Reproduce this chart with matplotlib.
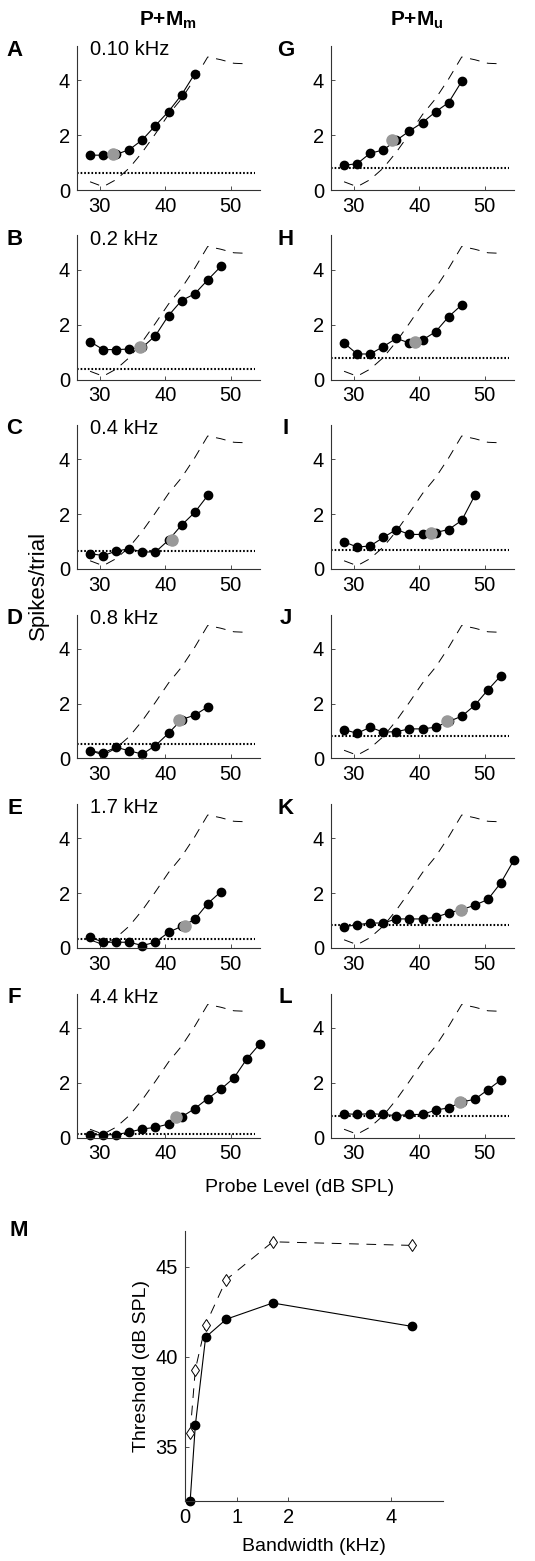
import matplotlib.pyplot as plt

plt.rcParams['font.family'] = ['Liberation Sans', 'DejaVu Sans']
plt.rcParams['mathtext.fontset'] = 'custom'
plt.rcParams['mathtext.rm'] = 'Liberation Sans'
plt.rcParams['mathtext.bf'] = 'Liberation Sans:bold'
plt.rcParams['lines.scale_dashes'] = False

# ---------- DATA ----------
# probe levels (dB SPL), 2 dB steps
levels = [28.5, 30.5, 32.5, 34.5, 36.5, 38.5, 40.5, 42.5, 44.5, 46.5, 48.5, 50.5, 52.5, 54.5]

# probe alone rate-level (dashed), same in every panel
probe_alone = [0.30, 0.12, 0.38, 0.80, 1.38, 2.05, 2.75, 3.33, 4.05, 4.85, 4.75, 4.62, 4.60]

bandwidths = [0.1, 0.2, 0.4, 0.8, 1.7, 4.4]
bw_labels = ['0.10 kHz', '0.2 kHz', '0.4 kHz', '0.8 kHz', '1.7 kHz', '4.4 kHz']

# P+Mm (left column), spikes/trial
mm_A = [1.27, 1.27, 1.30, 1.47, 1.83, 2.35, 2.86, 3.47, 4.23]
mm_B = [1.38, 1.09, 1.09, 1.11, 1.17, 1.60, 2.33, 2.88, 3.12, 3.63, 4.12]
mm_C = [0.56, 0.49, 0.65, 0.74, 0.62, 0.62, 1.05, 1.60, 2.06, 2.68]
mm_D = [0.28, 0.20, 0.41, 0.28, 0.16, 0.47, 0.92, 1.42, 1.58, 1.88]
mm_E = [0.40, 0.21, 0.21, 0.21, 0.09, 0.21, 0.57, 0.79, 1.04, 1.62, 2.05]
mm_F = [0.10, 0.10, 0.10, 0.20, 0.31, 0.37, 0.49, 0.75, 1.05, 1.42, 1.76, 2.17, 2.87, 3.42]
mm_spont = [0.63, 0.40, 0.65, 0.53, 0.34, 0.12]
mm_thresh = [32.0, 36.2, 41.1, 42.1, 43.0, 41.7]
mm_thresh_rate = [1.31, 1.17, 1.05, 1.40, 0.79, 0.75]

# P+Mu (right column)
mu_G = [0.90, 0.96, 1.34, 1.46, 1.81, 2.15, 2.46, 2.85, 3.19, 3.96]
mu_H = [1.33, 0.93, 0.93, 1.20, 1.50, 1.33, 1.44, 1.74, 2.29, 2.72]
mu_I = [0.99, 0.80, 0.84, 1.15, 1.44, 1.26, 1.26, 1.33, 1.44, 1.77, 2.68]
mu_J = [1.05, 0.92, 1.14, 0.96, 0.98, 1.08, 1.08, 1.14, 1.35, 1.54, 1.94, 2.50, 3.02]
mu_K = [0.77, 0.85, 0.91, 0.91, 1.06, 1.06, 1.06, 1.12, 1.28, 1.40, 1.56, 1.77, 2.38, 3.21]
mu_L = [0.87, 0.84, 0.87, 0.84, 0.80, 0.84, 0.84, 1.00, 1.08, 1.30, 1.39, 1.74, 2.10]
mu_spont = [0.79, 0.79, 0.70, 0.82, 0.85, 0.80]
mu_thresh = [35.8, 39.3, 41.8, 44.3, 46.4, 46.2]
mu_thresh_rate = [1.81, 1.35, 1.33, 1.35, 1.40, 1.29]

mm_rates = [mm_A, mm_B, mm_C, mm_D, mm_E, mm_F]
mu_rates = [mu_G, mu_H, mu_I, mu_J, mu_K, mu_L]

# ---------- LAYOUT ----------
W, H = 535.0, 1561.0
fig = plt.figure(figsize=(W / 100, H / 100), dpi=100)

col_left = [77, 331]
ax_w = 183
ax_h = 144
row_bottom = [190, 379.5, 569, 758.5, 948, 1137.5]
letters = [list('ABCDEF'), list('GHIJKL')]

DASH = (0, (7, 5.5))
FS = 14.5


def style_axes(ax):
    for s in ['top', 'right']:
        ax.spines[s].set_visible(False)
    for s in ['left', 'bottom']:
        ax.spines[s].set_linewidth(0.8)
        ax.spines[s].set_color('#333333')
    ax.tick_params(direction='in', length=3, width=0.6, labelsize=FS, pad=5,
                   color='#333333')


for c, (rates_list, spont, thr, thr_rate) in enumerate([
        (mm_rates, mm_spont, mm_thresh, mm_thresh_rate),
        (mu_rates, mu_spont, mu_thresh, mu_thresh_rate)]):
    for r in range(6):
        b = row_bottom[r]
        ax = fig.add_axes([col_left[c] / W, 1 - b / H, ax_w / W, ax_h / H])
        style_axes(ax)
        # probe alone
        ax.plot(levels[:len(probe_alone)], probe_alone, color='black', lw=0.7,
                linestyle=DASH)
        # spontaneous / criterion
        ax.plot([26.5, 53.8], [spont[r], spont[r]], color='black', lw=1.5,
                linestyle=(0, (1.2, 1.4)))
        rr = rates_list[r]
        ax.plot(levels[:len(rr)], rr, color='black', lw=0.8, marker='o',
                markersize=6, clip_on=False)
        # threshold point
        ax.plot([thr[r]], [thr_rate[r]], marker='o', markersize=8,
                color='#999999', linestyle='none', clip_on=False, zorder=5)
        ax.set_xlim(26.5, 54.5)
        ax.set_ylim(0, 5.25)
        ax.set_xticks([30, 40, 50])
        ax.set_yticks([0, 2, 4])
        if c == 0:
            ax.text(0.07, 0.975, bw_labels[r], transform=ax.transAxes,
                    fontsize=FS, va='center', ha='left')
        lx = [14.5, 285.5][c]
        fig.text(lx / W, 1 - (b - ax_h + 4) / H, letters[c][r], fontsize=16,
                 fontweight='bold', ha='center', va='center')

fig.text(168 / W, 1 - 20 / H, r'$\mathbf{P{+}M_m}$', fontsize=15,
         ha='center', va='center')
fig.text(417 / W, 1 - 20 / H, r'$\mathbf{P{+}M_u}$', fontsize=15,
         ha='center', va='center')

fig.text(38 / W, 1 - 585 / H, 'Spikes/trial', fontsize=16, rotation=90,
         ha='center', va='center')
fig.text(300 / W, 1 - 1188 / H, 'Probe Level (dB SPL)', fontsize=14,
         ha='center', va='center')

# ---------- PANEL M ----------
axm = fig.add_axes([185 / W, 1 - 1501 / H, 258 / W, 270 / H])
style_axes(axm)
axm.plot(bandwidths, mu_thresh, color='black', lw=0.7, linestyle=DASH,
         marker='d', markersize=6.5, markerfacecolor='white',
         markeredgecolor='black', markeredgewidth=0.7, clip_on=False)
axm.plot(bandwidths, mm_thresh, color='black', lw=0.8, marker='o',
         markersize=6, clip_on=False)
axm.set_xlim(0, 5)
axm.set_ylim(32, 47)
axm.set_xticks([0, 1, 2, 4])
axm.set_yticks([35, 40, 45])
axm.set_xlabel('Bandwidth (kHz)', fontsize=14, labelpad=8)
axm.set_ylabel('Threshold (dB SPL)', fontsize=14, labelpad=4)
fig.text(19 / W, 1 - 1231 / H, 'M', fontsize=16, fontweight='bold',
         ha='center', va='center')

fig.savefig('out.png', dpi=100)
